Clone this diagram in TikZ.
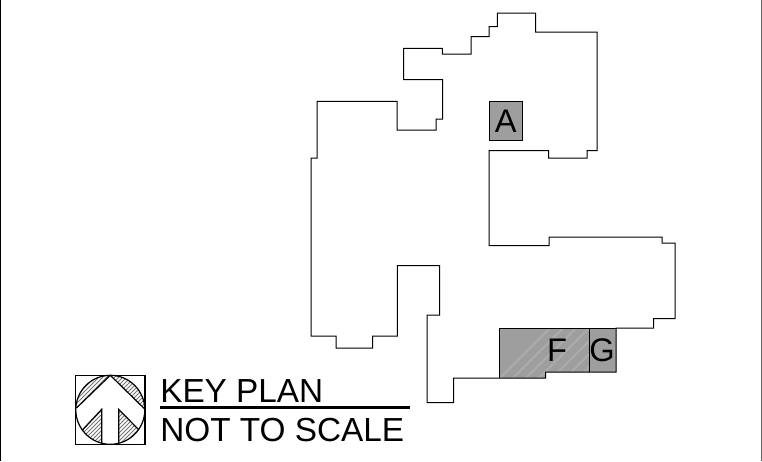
\documentclass[tikz,border=0pt]{standalone}
\usepackage{fontspec}
\setmainfont{Liberation Sans}
\definecolor{hatchgray}{gray}{0.62}
\definecolor{hatchlight}{gray}{0.67}
\tikzset{
  x=0.75pt,y=-0.75pt,
  plan/.style={draw=black,line width=0.75pt,line join=miter},
  zone/.style={draw=black,line width=0.75pt,fill=hatchgray},
  zonetext/.style={inner sep=0pt,font=\fontsize{24.5pt}{26pt}\selectfont,text=black},
  keytext/.style={inner sep=0pt,anchor=base west,font=\fontsize{25pt}{27pt}\selectfont,text=black},
  symline/.style={draw=black,line width=0.9pt},
  hatchline/.style={draw=black!55,line width=0.6pt},
  stripe/.style={draw=hatchlight,line width=1.6pt},
}
\begin{document}
\begin{tikzpicture}
\useasboundingbox (0,0) rectangle (762,461);
\fill[white] (0,0) rectangle (762,461);
% frame edges
\coordinate (fl1) at (0.6,0); \coordinate (fl2) at (0.6,461);
\coordinate (fr1) at (761.3,0); \coordinate (fr2) at (761.3,461);
\draw[line width=1pt] (fl1) -- (fl2);
\draw[line width=0.8pt,black!60] (fr1) -- (fr2);
% zones
\fill[hatchgray] (499.5,328) -- (616,328) -- (616,372) -- (545.5,372) -- (545.5,378) -- (499.5,378) -- cycle;
\begin{scope}
\clip (499.5,328) -- (589,328) -- (589,372) -- (545.5,372) -- (545.5,378) -- (499.5,378) -- cycle;
\foreach \k in {0,13,...,130}{\draw[stripe] (490+\k,388) -- ++(60,-60);}
\end{scope}
% outline
\draw[plan] (497.5,13) -- (535.5,13) -- (535.5,32) -- (597,32) -- (597,150.5) -- (587,150.5) -- (587,158) -- (548.7,158) -- (548.7,150.5) -- (489,150.5) -- (489,245.5) -- (549,245.5) -- (549,237) -- (662,237) -- (662,243) -- (675,243) -- (675,318.5) -- (653.7,318.5) -- (653.7,328) -- (616,328) -- (616,372) -- (545.5,372) -- (545.5,378) -- (453.7,378) -- (453.7,402.7) -- (427,402.7) -- (427,315) -- (439.5,315) -- (439.5,265.7) -- (397.3,265.7) -- (397.3,336) -- (372.7,336) -- (372.7,348) -- (336,348) -- (336,336) -- (311,336) -- (311,158) -- (317,158) -- (317,101.3) -- (397,101.3) -- (397,130) -- (436,130) -- (436,119) -- (442.7,119) -- (442.7,79.7) -- (403.7,79.7) -- (403.7,48.3) -- (442.3,48.3) -- (442.3,54) -- (471,54) -- (471,36.7) -- (489,36.7) -- (489,26.7) -- (497.3,26.7) -- cycle;
\draw[plan] (499.5,328) -- (616,328);
\draw[plan] (499.5,328) -- (499.5,378);
\draw[plan] (589,328) -- (589,372);
\node[zone,minimum width=25pt,minimum height=29.2pt,inner sep=0pt] (zonea) at (505.7,121) {};
\node[zonetext] (la) at (505.7,121) {A};
\node[zonetext] (lf) at (557,350.5) {F};
\node[zonetext] (lg) at (602,350.5) {G};
% north symbol hatching
\begin{scope}
\clip (110.3,409.8) circle[radius=25.875pt];
\clip (75,375) -- (110.3,375.3) -- (75.5,408) -- cycle;
\foreach \k in {-40,-36,...,80}{\draw[hatchline] (60+\k,440) -- ++(80,-80);}
\end{scope}
\begin{scope}
\clip (110.3,409.8) circle[radius=25.875pt];
\clip (110.3,375.3) -- (145,375.3) -- (145,409.3) -- cycle;
\foreach \k in {-40,-36,...,120}{\draw[hatchline] (60+\k,440) -- ++(80,-80);}
\end{scope}
\begin{scope}
\clip (110.3,409.8) circle[radius=25.875pt];
\clip (101.7,409.3) -- (80,430) -- (80,445) -- (101.7,445) -- cycle;
\foreach \k in {-40,-36,...,120}{\draw[hatchline] (60+\k,480) -- ++(80,-80);}
\end{scope}
\begin{scope}
\clip (110.3,409.8) circle[radius=25.875pt];
\clip (118.7,409.3) -- (139,429.5) -- (139,445) -- (118.7,445) -- cycle;
\foreach \k in {-40,-36,...,120}{\draw[hatchline] (60+\k,480) -- ++(80,-80);}
\end{scope}
\coordinate (sq1) at (75.7,375.3); \coordinate (sq2) at (145,444.3);
\draw[symline] (sq1) rectangle (sq2);
\draw[symline] (110.3,409.8) circle[radius=25.875pt];
\draw[symline] (76.5,408) -- (110.3,375.3) -- (145,409.3);
\draw[symline] (82.5,430) -- (101.7,409.3) -- (101.7,443.5);
\draw[symline] (138.5,429.5) -- (118.7,409.3) -- (118.7,443.5);
% key text
\node[keytext] (k1) at (160,402.7) {KEY PLAN};
\coordinate (r1) at (160,407.5); \coordinate (r2) at (410,407.5);
\draw[line width=2pt] (r1) -- (r2);
\node[keytext] (k2) at (160,441) {NOT TO SCALE};
\end{tikzpicture}
\end{document}
